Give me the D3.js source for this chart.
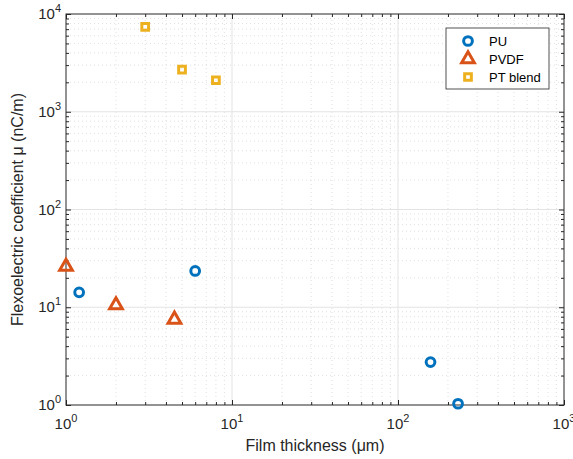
<!DOCTYPE html>
<html>
<head>
<meta charset="utf-8">
<script src="https://cdn.jsdelivr.net/npm/d3@7/dist/d3.min.js"></script>
<style>
  body { margin: 0; background: #fff; }
  svg { font-family: "Liberation Sans", Arial, sans-serif; }
</style>
</head>
<body>
<div id="plot"></div>
<script>
// data
const puThickness = [1.2, 6, 157, 230];
const puCoeff = [14.2, 23.5, 2.75, 1.03];
const pvdfThickness = [1, 2, 4.5];
const pvdfCoeff = [26, 10.5, 7.5];
const ptThickness = [3, 5, 8];
const ptCoeff = [7400, 2700, 2100];
const xTicks = [1, 10, 100, 1000];
const yTicks = [1, 10, 100, 1000, 10000];
const seriesNames = ["PU", "PVDF", "PT blend"];

const width = 573, height = 459;
const margin = {left: 66, right: 9, top: 14, bottom: 54};

const svg = d3.select("#plot").append("svg")
    .attr("width", width).attr("height", height);

const x = d3.scaleLog().domain([1, 1000]).range([margin.left, width - margin.right]);
const y = d3.scaleLog().domain([1, 10000]).range([height - margin.bottom, margin.top]);

const x0 = x.range()[0], x1 = x.range()[1];
const y0 = y.range()[0], y1 = y.range()[1];

// minor values
const minor = (lo, hi) => {
  const out = [];
  for (let d = lo; d < hi; d *= 10)
    for (let k = 2; k <= 9; k++) out.push(d * k);
  return out;
};
const xMinor = minor(1, 1000);
const yMinor = minor(1, 10000);

const grid = svg.append("g");
grid.selectAll(".xm").data(xMinor).enter().append("line")
    .attr("x1", d => x(d)).attr("x2", d => x(d)).attr("y1", y0).attr("y2", y1)
    .attr("stroke", "#d8d8d8").attr("stroke-width", 0.8).attr("stroke-dasharray", "1,3");
grid.selectAll(".ym").data(yMinor).enter().append("line")
    .attr("y1", d => y(d)).attr("y2", d => y(d)).attr("x1", x0).attr("x2", x1)
    .attr("stroke", "#d8d8d8").attr("stroke-width", 0.8).attr("stroke-dasharray", "1,3");
grid.selectAll(".xM").data(xTicks.slice(1, -1)).enter().append("line")
    .attr("x1", d => x(d)).attr("x2", d => x(d)).attr("y1", y0).attr("y2", y1)
    .attr("stroke", "#e3e3e3").attr("stroke-width", 1);
grid.selectAll(".yM").data(yTicks.slice(1, -1)).enter().append("line")
    .attr("y1", d => y(d)).attr("y2", d => y(d)).attr("x1", x0).attr("x2", x1)
    .attr("stroke", "#e3e3e3").attr("stroke-width", 1);

// axes with ticks inward on all sides
const axCol = "#262626";
function styleAxis(g) {
  g.select(".domain").remove();
  g.selectAll(".tick line").attr("stroke", axCol);
}
const fmtPow = d => "";
svg.append("g").attr("transform", `translate(0,${y0})`)
  .call(d3.axisTop(x).tickValues(xTicks.concat(xMinor)).tickSize(5).tickFormat(fmtPow))
  .call(g => g.selectAll(".tick").filter(d => xMinor.includes(d)).select("line").attr("y2", -3))
  .call(styleAxis);
svg.append("g").attr("transform", `translate(0,${y1})`)
  .call(d3.axisBottom(x).tickValues(xTicks.concat(xMinor)).tickSize(5).tickFormat(fmtPow))
  .call(g => g.selectAll(".tick").filter(d => xMinor.includes(d)).select("line").attr("y2", 3))
  .call(styleAxis);
svg.append("g").attr("transform", `translate(${x0},0)`)
  .call(d3.axisRight(y).tickValues(yTicks.concat(yMinor)).tickSize(5).tickFormat(fmtPow))
  .call(g => g.selectAll(".tick").filter(d => yMinor.includes(d)).select("line").attr("x2", 3))
  .call(styleAxis);
svg.append("g").attr("transform", `translate(${x1},0)`)
  .call(d3.axisLeft(y).tickValues(yTicks.concat(yMinor)).tickSize(5).tickFormat(fmtPow))
  .call(g => g.selectAll(".tick").filter(d => yMinor.includes(d)).select("line").attr("x2", -3))
  .call(styleAxis);

svg.append("rect").attr("x", x0).attr("y", y1).attr("width", x1 - x0).attr("height", y0 - y1)
    .attr("fill", "none").attr("stroke", axCol).attr("stroke-width", 1);

// tick labels 10^n
const exp = d => Math.round(Math.log10(d));
const xl = svg.append("g").selectAll("text").data(xTicks).enter().append("text")
    .attr("x", d => x(d)).attr("y", y0 + 24)
    .attr("text-anchor", "middle").attr("font-size", 15).attr("fill", axCol);
xl.append("tspan").text("10");
xl.append("tspan").attr("dy", -7).attr("font-size", 11).text(d => exp(d));

const yl = svg.append("g").selectAll("text").data(yTicks).enter().append("text")
    .attr("x", x0 - 5).attr("y", d => y(d) + 5)
    .attr("text-anchor", "end").attr("font-size", 15).attr("fill", axCol);
yl.append("tspan").text("10");
yl.append("tspan").attr("dy", -7).attr("font-size", 11).text(d => exp(d));

// axis titles
svg.append("text").attr("x", (x0 + x1) / 2).attr("y", 451)
    .attr("text-anchor", "middle").attr("font-size", 16).attr("fill", axCol)
    .text("Film thickness (μm)");
svg.append("text").attr("transform", `translate(23,${(y0 + y1) / 2}) rotate(-90)`)
    .attr("text-anchor", "middle").attr("font-size", 16).attr("fill", axCol)
    .text("Flexoelectric coefficient μ (nC/m)");

// markers
const colors = ["#0072BD", "#D95319", "#EDB120"];
const sym = [d3.symbolCircle, d3.symbolTriangle, d3.symbolSquare];
const symSize = [60, 70, 45];
const series = [
  puThickness.map((t, i) => [t, puCoeff[i]]),
  pvdfThickness.map((t, i) => [t, pvdfCoeff[i]]),
  ptThickness.map((t, i) => [t, ptCoeff[i]])
];
series.forEach((pts, s) => {
  svg.append("g").selectAll("path").data(pts).enter().append("path")
    .attr("d", d3.symbol().type(sym[s]).size(symSize[s]))
    .attr("transform", d => `translate(${x(d[0])},${y(d[1])})`)
    .attr("fill", "none").attr("stroke", colors[s]).attr("stroke-width", 3);
});

// legend
const lg = svg.append("g");
lg.append("rect").attr("x", 446).attr("y", 28).attr("width", 103).attr("height", 61)
    .attr("fill", "#fff").attr("stroke", axCol).attr("stroke-width", 0.8);
seriesNames.forEach((name, i) => {
  const yy = 41 + i * 18;
  lg.append("path").attr("d", d3.symbol().type(sym[i]).size(symSize[i])())
    .attr("transform", `translate(468,${yy})`)
    .attr("fill", "none").attr("stroke", colors[i]).attr("stroke-width", 3);
  lg.append("text").attr("x", 489).attr("y", yy + 5).attr("font-size", 13)
    .attr("fill", "#000").text(name);
});
</script>
</body>
</html>
